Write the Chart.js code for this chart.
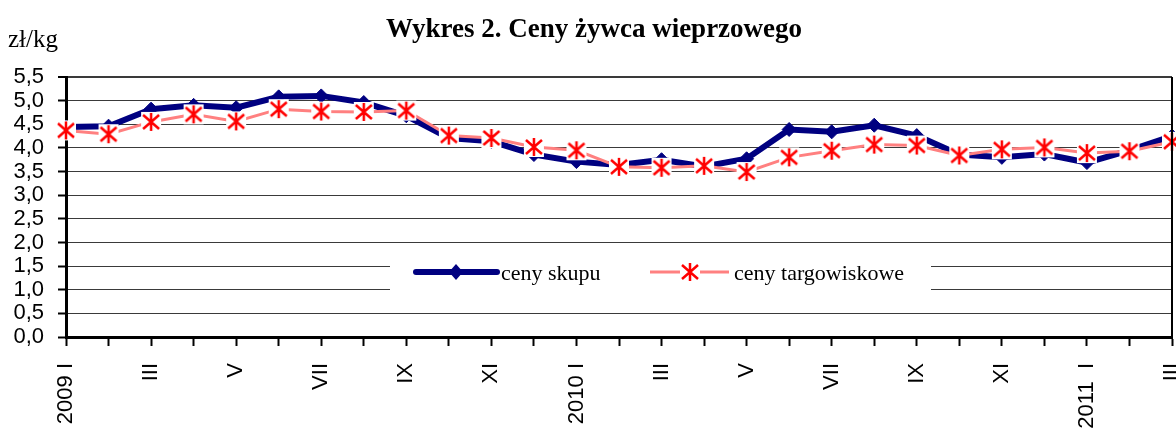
<!DOCTYPE html>
<html>
<head>
<meta charset="utf-8">
<script src="https://cdn.jsdelivr.net/npm/chart.js@4.4.1/dist/chart.umd.min.js"></script>
<style>
    html, body { margin: 0; padding: 0; background: #fff; }
    #wrap { width: 1176px; height: 428px; position: relative; }
</style>
</head>
<body>
<div id="wrap"><canvas id="pig_prices"></canvas></div>
<script>
// months, 2009 I .. 2011 III
const months = ['2009 I', 'II', 'III', 'IV', 'V', 'VI', 'VII', 'VIII', 'IX', 'X', 'XI', 'XII',
    '2010 I', 'II', 'III', 'IV', 'V', 'VI', 'VII', 'VIII', 'IX', 'X', 'XI', 'XII',
    '2011  I', 'II', 'III'];

// zł/kg
const cenySkupu = [4.44, 4.46, 4.82, 4.90, 4.85, 5.08, 5.10, 4.96, 4.68, 4.21, 4.14, 3.86,
    3.71, 3.64, 3.75, 3.61, 3.77, 4.39, 4.34, 4.48, 4.26, 3.86, 3.80, 3.87,
    3.69, 3.95, 4.25];
const cenyTargowiskowe = [4.37, 4.29, 4.55, 4.71, 4.56, 4.82, 4.77, 4.76, 4.79, 4.26, 4.21, 4.02,
    3.95, 3.60, 3.58, 3.62, 3.49, 3.80, 3.94, 4.07, 4.05, 3.84, 3.97, 4.01,
    3.89, 3.93, 4.13];

const seriesNames = ['ceny skupu', 'ceny targowiskowe'];
const titleText = 'Wykres 2. Ceny żywca wieprzowego';
const unitText = 'zł/kg';

// asterisk marker with white box behind it (like the excel one)
function asterisk() {
    let c = document.createElement('canvas');
    c.width = 22;
    c.height = 22;
    let g = c.getContext('2d');
    g.fillStyle = '#fff';
    g.fillRect(1, 1, 20, 20);
    g.strokeStyle = '#FF0000';
    g.lineWidth = 2.5;
    g.beginPath();
    g.moveTo(11, 2); g.lineTo(11, 20);
    g.moveTo(3, 4); g.lineTo(19, 18);
    g.moveTo(3, 18); g.lineTo(19, 4);
    g.stroke();
    return c;
}
const starImg = asterisk();

let framePlugin = {
    id: 'frame',
    afterDatasetsDraw(chart) {
        const ctx = chart.ctx;
        const a = chart.chartArea;
        ctx.save();
        // right border
        ctx.strokeStyle = '#000';
        ctx.lineWidth = 2;
        ctx.beginPath();
        ctx.moveTo(a.right, a.top);
        ctx.lineTo(a.right, a.bottom);
        ctx.stroke();

        // legend box inside plot
        ctx.fillStyle = '#fff';
        ctx.fillRect(390, 253, 541, 45);
        const ly = 272;
        ctx.strokeStyle = '#000080';
        ctx.lineWidth = 6;
        ctx.lineCap = 'round';
        ctx.beginPath();
        ctx.moveTo(416, ly);
        ctx.lineTo(497, ly);
        ctx.stroke();
        ctx.fillStyle = '#000080';
        ctx.beginPath();
        ctx.moveTo(456, ly - 8);
        ctx.lineTo(463, ly);
        ctx.lineTo(456, ly + 8);
        ctx.lineTo(449, ly);
        ctx.closePath();
        ctx.fill();

        ctx.strokeStyle = '#FF8080';
        ctx.lineWidth = 3;
        ctx.lineCap = 'butt';
        ctx.beginPath();
        ctx.moveTo(650, ly);
        ctx.lineTo(729, ly);
        ctx.stroke();
        ctx.drawImage(starImg, 690 - 11, ly - 11);

        ctx.fillStyle = '#000';
        ctx.font = '22px "Liberation Serif"';
        ctx.textBaseline = 'alphabetic';
        ctx.textAlign = 'left';
        ctx.fillText(seriesNames[0], 501, ly + 8);
        ctx.fillText(seriesNames[1], 734, ly + 8);
        ctx.restore();
    },
    afterDraw(chart) {
        const ctx = chart.ctx;
        ctx.save();
        ctx.fillStyle = '#000';
        ctx.font = 'bold 27px "Liberation Serif"';
        ctx.textAlign = 'center';
        ctx.textBaseline = 'alphabetic';
        ctx.fillText(titleText, 594, 37);
        ctx.font = '25px "Liberation Serif"';
        ctx.textAlign = 'left';
        ctx.fillText(unitText, 8, 47);
        ctx.restore();
    }
};

let pig_prices_param = {
    type: 'line',
    data: {
        labels: months,
        datasets: [{
            label: seriesNames[0],
            data: cenySkupu,
            borderColor: '#000080',
            backgroundColor: '#000080',
            borderWidth: 6,
            tension: 0,
            pointStyle: 'rectRot',
            pointRadius: 7,
            pointBorderWidth: 1,
            order: 2,
        }, {
            label: seriesNames[1],
            data: cenyTargowiskowe,
            borderColor: '#FF8080',
            backgroundColor: '#FF0000',
            borderWidth: 3,
            tension: 0,
            pointStyle: starImg,
            pointRadius: 11,
            order: 1,
        }]
    },
    options: {
        responsive: false,
        animation: false,
        events: [],
        layout: {
            autoPadding: false,
            padding: {top: 77, right: 4, left: 0, bottom: 0}
        },
        plugins: {
            legend: {display: false},
            title: {display: false},
            tooltip: {enabled: false}
        },
        scales: {
            x: {
                offset: false,
                border: {display: true, color: '#000', width: 3},
                grid: {
                    drawOnChartArea: false,
                    drawTicks: true,
                    tickLength: 9,
                    tickColor: '#000',
                    tickWidth: 2
                },
                ticks: {
                    autoSkip: false,
                    maxRotation: 90,
                    minRotation: 90,
                    padding: 17,
                    color: '#000',
                    font: {family: '"Liberation Sans"', size: 22},
                    callback: function (v, i) {
                        return i % 2 === 0 ? this.getLabelForValue(v) : '';
                    }
                },
                afterFit: function (scale) {
                    scale.height = 91;
                    scale.paddingLeft = 0;
                    scale.paddingRight = 0;
                }
            },
            y: {
                min: 0,
                max: 5.5,
                border: {display: true, color: '#000', width: 3},
                grid: {
                    color: '#3a3a3a',
                    lineWidth: (ctx) => ctx.tick && ctx.tick.value === 5.5 ? 2 : 1,
                    tickLength: 8,
                    tickColor: '#000',
                    tickWidth: 2
                },
                ticks: {
                    autoSkip: false,
                    stepSize: 0.5,
                    padding: 14,
                    color: '#000',
                    font: {family: '"Liberation Sans"', size: 22},
                    callback: (v) => v.toFixed(1).replace('.', ',')
                },
                afterFit: function (scale) {
                    scale.width = 66;
                    scale.paddingTop = 0;
                    scale.paddingBottom = 0;
                }
            }
        }
    },
    plugins: [framePlugin]
};

let cv = document.getElementById('pig_prices');
cv.width = 1176;
cv.height = 428;
let pig_prices = new Chart(cv, pig_prices_param);
</script>
</body>
</html>
